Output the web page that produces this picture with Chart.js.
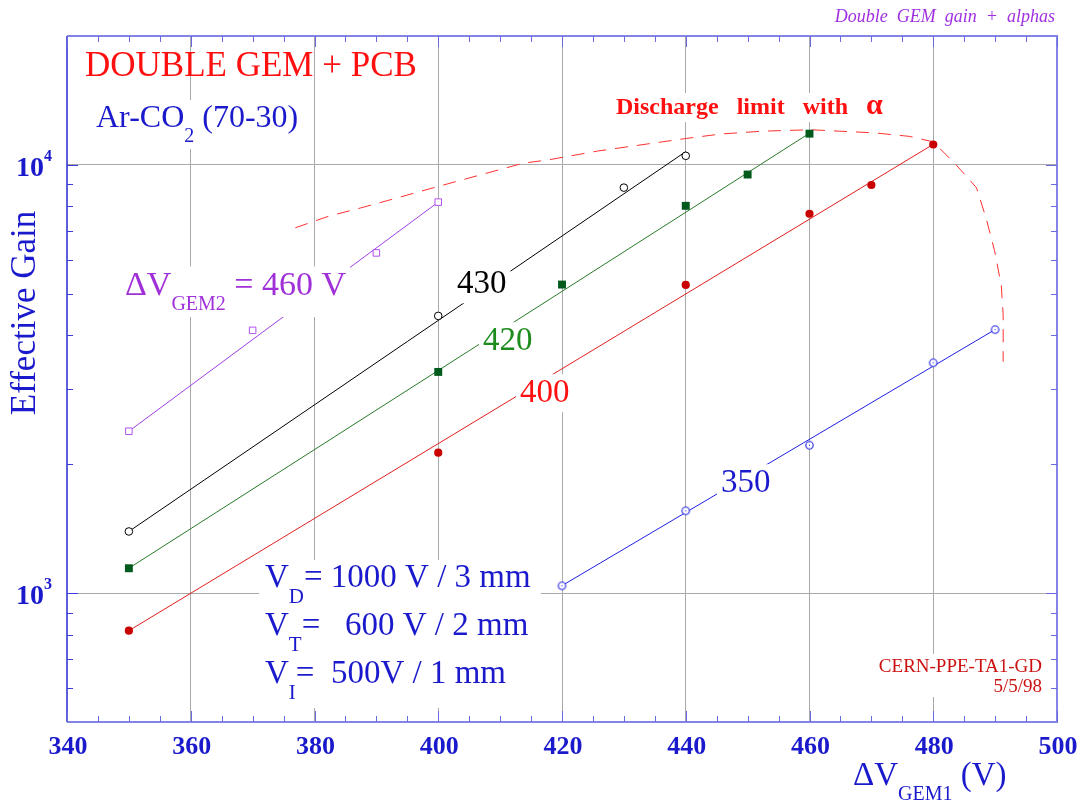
<!DOCTYPE html>
<html>
<head>
<meta charset="utf-8">
<script src="https://cdn.jsdelivr.net/npm/chart.js@4/dist/chart.umd.min.js"></script>
<style>
  html, body { margin: 0; padding: 0; background: #fff; }
  canvas { display: block; }
</style>
</head>
<body>
<canvas id="c" width="1084" height="802"></canvas>
<script>
// axis ticks
const xTicks = [340, 360, 380, 400, 420, 440, 460, 480, 500]
const yTicks = [1000, 10000]
const yMinorTicks = [600, 700, 800, 900, 2000, 3000, 4000, 5000, 6000, 7000, 8000, 9000]

// measured gains, one array per dV_GEM2 setting
const x430 = [350, 400, 430, 440]
const gain430 = [1393, 4440, 8850, 10500]
const x420 = [350, 400, 420, 440, 450, 460]
const gain420 = [1143, 3285, 5255, 8025, 9495, 11830]
const x400 = [350, 400, 440, 460, 470, 480]
const gain400 = [817, 2128, 5245, 7690, 8975, 11160]
const x350 = [420, 440, 460, 480, 490]
const gain350 = [1040, 1557, 2215, 3450, 4125]
const x460 = [350, 370, 390, 400]
const gain460 = [2388, 4108, 6230, 8187]

// fitted lines (end points)
const fit430X = [350, 440], fit430Gain = [1393, 10740]
const fit420X = [350, 460], fit420Gain = [1143, 11860]
const fit400X = [350, 480], fit400Gain = [817, 11170]
const fit350X = [420, 490], fit350Gain = [1041, 4126]
const fit460X = [350, 400], fit460Gain = [2388, 8187]

// discharge limit with alphas
const limitX = [376.9, 382.3, 387.4, 392.0, 399.8, 413.7, 417.9, 425.7, 440.1, 445.7, 452.5,
  460.2, 464.8, 470.5, 476.1, 480.0, 483.7, 487.0, 488.6, 489.9, 491.0, 491.3, 491.3]
const limitGain = [7130, 7590, 7930, 8270, 8890, 10090, 10280, 10770, 11530, 11810, 11990,
  12080, 11990, 11880, 11660, 11320, 10000, 8840, 7460, 6310, 5225, 4455, 3470]

const SERIF = '"Liberation Serif", "Times New Roman", serif'
const BLUE = '#1a1acc'

const pts = (xs, ys) => xs.map((x, i) => ({ x, y: ys[i] }))

// open circle with a dot in the middle (blue series)
function dotCircle() {
  const c = document.createElement('canvas')
  c.width = 11
  c.height = 11
  const g = c.getContext('2d')
  g.fillStyle = '#fff'
  g.strokeStyle = '#2020e0'
  g.lineWidth = 1.1
  g.beginPath()
  g.arc(5.5, 5.5, 3.7, 0, Math.PI * 2)
  g.fill()
  g.stroke()
  g.fillStyle = '#2020e0'
  g.fillRect(5, 5, 1, 1)
  return c
}

function markers(xs, ys, style) {
  return Object.assign({ data: pts(xs, ys), showLine: false, order: 0 }, style)
}

function line(xs, ys, color, extra) {
  return Object.assign({
    data: pts(xs, ys), showLine: true, pointRadius: 0, borderColor: color,
    borderWidth: 1, tension: 0, order: 1
  }, extra || {})
}

// draw pieces of text side by side, [text, font size, dy, weight]
function rich(ctx, x, y, parts, color, align, box) {
  let total = 0
  const widths = parts.map(([t, s, dy, w]) => {
    ctx.font = (w || '') + ' ' + s + 'px ' + SERIF
    const m = ctx.measureText(t).width
    total += m
    return m
  })
  let cx = align === 'right' ? x - total : x
  if (box) {
    const size = parts[0][1]
    const sub = parts.some((p) => p[2] > 0)
    ctx.fillStyle = '#fff'
    ctx.fillRect(cx - 4, y - size * 0.75 - 3, total + 8, size * 0.75 + (sub ? 20 : size * 0.25) + 5)
  }
  ctx.fillStyle = color
  ctx.textBaseline = 'alphabetic'
  ctx.textAlign = 'left'
  parts.forEach(([t, s, dy, w], i) => {
    ctx.font = (w || '') + ' ' + s + 'px ' + SERIF
    ctx.fillText(t, cx, y + (dy || 0))
    cx += widths[i]
  })
}

const decorPlugin = {
  id: 'decor',
  beforeDraw(chart) {
    const ctx = chart.ctx
    ctx.save()
    ctx.fillStyle = '#fff'
    ctx.fillRect(0, 0, chart.width, chart.height)
    ctx.restore()
  },
  afterDatasetsDraw(chart) {
    const ctx = chart.ctx
    const { left, right, top, bottom } = chart.chartArea
    const xs = chart.scales.x
    const ys = chart.scales.y
    ctx.save()

    // labels inside the frame
    rich(ctx, 85, 76, [['DOUBLE GEM + PCB', 35]], '#ff1010')
    rich(ctx, 96, 127, [['Ar-CO', 32], ['2', 20, 15], [' (70-30)', 32]], BLUE, 'left', true)
    rich(ctx, 616, 114, [['Discharge   limit   with   ', 24, 0, 'bold'], ['α', 30, 0, 'bold']], '#ff1010', 'left', true)
    rich(ctx, 457, 293, [['430', 33]], '#000', 'left', true)
    rich(ctx, 483, 350, [['420', 33]], '#1d8c1d', 'left', true)
    rich(ctx, 520, 402, [['400', 33]], '#ff1010', 'left', true)
    rich(ctx, 721, 492, [['350', 33]], BLUE, 'left', true)
    rich(ctx, 125, 295, [['ΔV', 34], ['GEM2', 20, 15], [' = 460 V', 34]], '#a030d8', 'left', true)

    ctx.fillStyle = '#fff'
    ctx.fillRect(259, 560, 282, 148)
    rich(ctx, 265, 587, [['V', 33], ['D', 21, 16], ['= 1000 V / 3 mm', 33]], BLUE)
    rich(ctx, 265, 635, [['V', 33], ['T', 21, 16], ['=   600 V / 2 mm', 33]], BLUE)
    rich(ctx, 265, 683, [['V', 33], ['I', 21, 16], ['=  500V / 1 mm', 33]], BLUE)

    ctx.fillStyle = '#fff'
    ctx.fillRect(858, 654, 188, 43)
    rich(ctx, 1042, 672, [['CERN-PPE-TA1-GD', 19]], '#cc1111', 'right')
    rich(ctx, 1042, 692, [['5/5/98', 19]], '#cc1111', 'right')

    // frame
    ctx.lineWidth = 2
    ctx.strokeStyle = '#8484e6'
    ctx.beginPath()
    ctx.moveTo(left, top)
    ctx.lineTo(right, top)
    ctx.lineTo(right, bottom)
    ctx.lineTo(left, bottom)
    ctx.stroke()
    ctx.lineWidth = 1.5
    ctx.strokeStyle = '#2a2ad0'
    ctx.beginPath()
    ctx.moveTo(left, top)
    ctx.lineTo(left, bottom)
    ctx.stroke()

    // x ticks, minor every 5
    ctx.lineWidth = 1
    for (let v = xTicks[0]; v <= xTicks[xTicks.length - 1]; v += 5) {
      const px = Math.round(xs.getPixelForValue(v)) + 0.5
      const len = xTicks.includes(v) ? 11 : 6
      ctx.strokeStyle = '#6a6ae0'
      ctx.beginPath()
      ctx.moveTo(px, bottom)
      ctx.lineTo(px, bottom - len)
      ctx.moveTo(px, top)
      ctx.lineTo(px, top + len)
      ctx.stroke()
    }
    // y ticks
    yTicks.concat(yMinorTicks).forEach((v) => {
      const py = Math.round(ys.getPixelForValue(v)) + 0.5
      const len = yTicks.includes(v) ? 11 : 6
      ctx.strokeStyle = '#3a3ad6'
      ctx.beginPath()
      ctx.moveTo(left, py)
      ctx.lineTo(left + len, py)
      ctx.stroke()
      ctx.strokeStyle = '#6a6ae0'
      ctx.beginPath()
      ctx.moveTo(right, py)
      ctx.lineTo(right - len, py)
      ctx.stroke()
    })

    // x tick labels
    ctx.fillStyle = BLUE
    ctx.font = 'bold 26px ' + SERIF
    ctx.textAlign = 'center'
    ctx.textBaseline = 'alphabetic'
    xTicks.forEach((v) => ctx.fillText(String(v), xs.getPixelForValue(v) + 1, 754))

    // y tick labels 10^n
    yTicks.forEach((v) => {
      const py = ys.getPixelForValue(v)
      ctx.font = 'bold 28px ' + SERIF
      ctx.textAlign = 'right'
      ctx.fillText('10', 44, py + 11)
      ctx.font = 'bold 16px ' + SERIF
      ctx.textAlign = 'left'
      ctx.fillText(String(Math.round(Math.log10(v))), 44, py - 4)
    })

    // axis titles
    rich(ctx, 853, 785, [['ΔV', 33], ['GEM1', 20, 15], [' (V)', 33]], BLUE)
    ctx.save()
    ctx.translate(35, 313)
    ctx.rotate(-Math.PI / 2)
    ctx.font = '35px ' + SERIF
    ctx.textAlign = 'center'
    ctx.fillStyle = BLUE
    ctx.fillText('Effective Gain', 0, 0)
    ctx.restore()

    ctx.font = 'italic 18px ' + SERIF
    ctx.textAlign = 'right'
    ctx.fillStyle = '#a030e0'
    ctx.fillText('Double  GEM  gain  +  alphas', 1055, 22)

    ctx.restore()
  }
}

const gridColor = (c) => {
  const v = c.tick && c.tick.value
  return v === xTicks[0] || v === xTicks[xTicks.length - 1] ? 'rgba(0,0,0,0)' : '#a9a9a9'
}

new Chart(document.getElementById('c'), {
  type: 'scatter',
  data: {
    datasets: [
      markers(x430, gain430, { pointStyle: 'circle', pointRadius: 3.8, borderColor: '#000', backgroundColor: '#fff', borderWidth: 1 }),
      markers(x420, gain420, { pointStyle: 'rect', pointRadius: 5.6, borderColor: '#005a1c', backgroundColor: '#005a1c', borderWidth: 0 }),
      markers(x400, gain400, { pointStyle: 'circle', pointRadius: 4.1, borderColor: '#c80000', backgroundColor: '#c80000', borderWidth: 0 }),
      markers(x350, gain350, { pointStyle: dotCircle(), pointRadius: 4 }),
      markers(x460, gain460, { pointStyle: 'rect', pointRadius: 4.6, borderColor: '#b050f0', backgroundColor: '#fff', borderWidth: 1 }),
      line(fit430X, fit430Gain, '#000'),
      line(fit420X, fit420Gain, '#2a7a2a'),
      line(fit400X, fit400Gain, '#e02020'),
      line(fit350X, fit350Gain, '#2020e0'),
      line(fit460X, fit460Gain, '#a040e8'),
      line(limitX, limitGain, '#ff3030', { borderDash: [13, 9], order: 2 })
    ]
  },
  options: {
    responsive: false,
    animation: false,
    events: [],
    layout: { padding: { left: 67, top: 36, right: 27, bottom: 80 } },
    plugins: { legend: { display: false }, tooltip: { enabled: false } },
    scales: {
      x: {
        type: 'linear',
        min: 340,
        max: 500,
        afterBuildTicks: (s) => { s.ticks = xTicks.map((value) => ({ value })) },
        ticks: { display: false },
        grid: { color: gridColor, drawTicks: false, lineWidth: 1 },
        border: { display: false }
      },
      y: {
        type: 'logarithmic',
        min: 500,
        max: 20000,
        afterBuildTicks: (s) => { s.ticks = yTicks.map((value) => ({ value })) },
        ticks: { display: false },
        grid: { color: '#a9a9a9', drawTicks: false, lineWidth: 1 },
        border: { display: false }
      }
    }
  },
  plugins: [decorPlugin]
})
</script>
</body>
</html>
